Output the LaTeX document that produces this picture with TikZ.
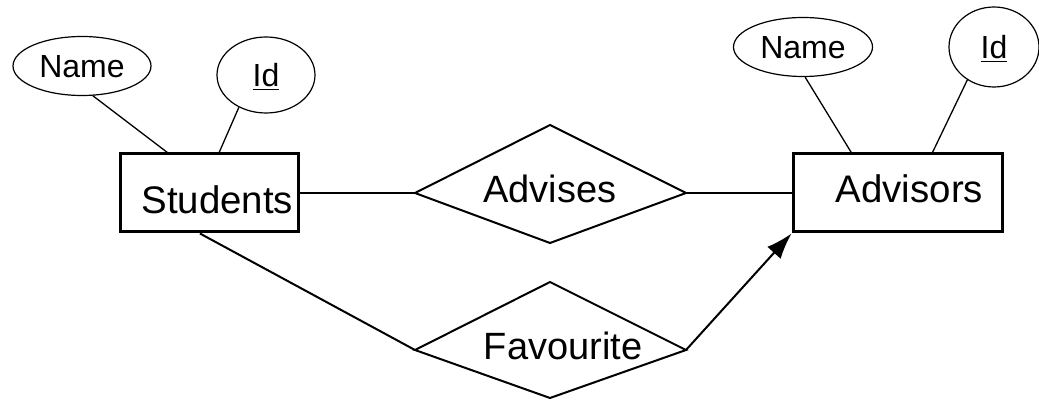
\documentclass[tikz,border=0pt]{standalone}
\usepackage{fontspec}
\setmainfont{Liberation Sans}
\usetikzlibrary{shapes.geometric,arrows.meta,calc}
\begin{document}
\begin{tikzpicture}[x=0.5pt,y=-0.5pt]
  \tikzstyle{every node}+=[inner sep=0pt]
  \tikzstyle{entity}=[draw, line width=1.5pt, minimum height=39pt, align=right, text depth=0pt, font=\fontsize{19.2}{23}\selectfont]
  \tikzstyle{attr}=[draw, ellipse, line width=0.6pt, text depth=0pt, font=\fontsize{16}{19}\selectfont]
  \tikzstyle{rel}=[line width=1pt, line join=miter]
  \tikzstyle{reltext}=[font=\fontsize{19}{23}\selectfont]
  \tikzstyle{link}=[line width=1pt]
  \tikzstyle{attrlink}=[line width=0.65pt]
  \useasboundingbox (0,0) rectangle (1039,400);
  % entities
  \node [entity, text width=84pt, inner xsep=2.5pt, text height=20.8pt] (students) at (209,193) {Students};
  \node [entity, text width=85.5pt, inner xsep=9.5pt, text height=9.8pt] (advisors) at (897.5,193) {Advisors};
  % attributes
  \node [attr, minimum width=69pt, minimum height=29.5pt] (stuName) at (82,66) {Name};
  \node [attr, minimum width=49pt, minimum height=38pt] (stuId) at (266,75) {\underline{Id}};
  \node [attr, minimum width=69.5pt, minimum height=29.5pt] (advName) at (803,47) {Name};
  \node [attr, minimum width=45pt, minimum height=40pt] (advId) at (994,47) {\underline{Id}};
  % relationships
  \draw [rel] (415,193) coordinate (advisesW) -- (550,125) -- (686,193) coordinate (advisesE) -- (550,243) -- cycle;
  \node [reltext] (advises) at (550,189) {Advises};
  \draw [rel] (415,350) coordinate (favW) -- (550,282) -- (686,350) coordinate (favE) -- (550,398) -- cycle;
  \node [reltext] (favourite) at (563,346) {Favourite};
  % links
  \draw [attrlink] (stuName.-70) -- ($(students.north west)!0.27!(students.north east)$);
  \draw [attrlink] (stuId.-130) -- ($(students.north west)!0.556!(students.north east)$);
  \draw [attrlink] (advName.-86) -- ($(advisors.north west)!0.282!(advisors.north east)$);
  \draw [attrlink] (advId.-129) -- ($(advisors.north west)!0.665!(advisors.north east)$);
  \draw [link] (students.east) -- (advisesW);
  \draw [link] (advisesE) -- (advisors.west);
  \draw [link] ($(students.south west)!0.45!(students.south east)$) -- (favW);
  \draw [link, -{Latex[length=13pt,width=9pt]}] (favE) -- (advisors.south west);
\end{tikzpicture}
\end{document}
